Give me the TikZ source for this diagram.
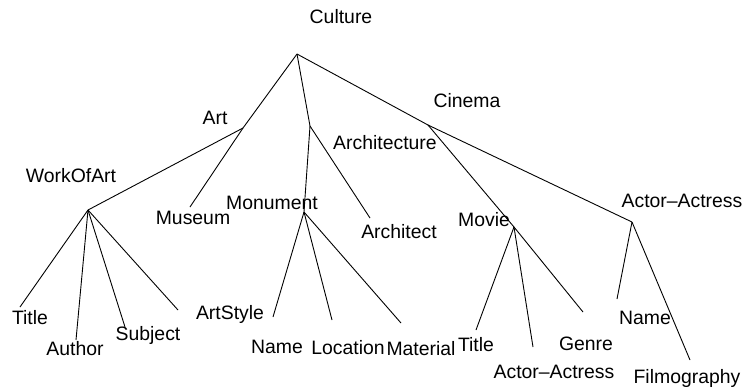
\documentclass[tikz,border=0pt]{standalone}
\usepackage{fontspec}
\setmainfont{Liberation Sans}
\usetikzlibrary{positioning}
\newcommand{\tl}{\fontsize{9.7}{11}\selectfont}

\begin{document}
\begin{tikzpicture}[x=0.5pt, y=-0.5pt,
  edge/.style={line width=0.45pt, black},
  lbl/.style={font=\tl, inner sep=0pt, anchor=base}]
\useasboundingbox (0,0) rectangle (746,388);

% ================================================================== joints and leaf ends
\coordinate (cul) at (297,54);
\coordinate (art) at (243,128);
\coordinate (arch) at (310,126);
\coordinate (cin) at (428,125);
\coordinate (woa) at (88,210);
\coordinate (mus) at (190,207);
\coordinate (mon) at (304,212);
\coordinate (archt) at (370,218);
\coordinate (mov) at (514,227);
\coordinate (act) at (632,222);
% leaves of WorkOfArt
\coordinate (w1) at (20,307);
\coordinate (w2) at (76,340);
\coordinate (w3) at (125,327);
\coordinate (w4) at (178,310);
% leaves of Monument
\coordinate (m1) at (273,317);
\coordinate (m2) at (332,320);
\coordinate (m3) at (401,323);
% leaves of Movie
\coordinate (v1) at (476,330);
\coordinate (v2) at (533,347);
\coordinate (v3) at (583,312);
% leaves of Actor-Actress
\coordinate (a1) at (617,299);
\coordinate (a2) at (690,360);

% ================================================================== edges
\foreach \c in {art,arch,cin}{ \draw[edge] (cul) -- (\c); }
\foreach \c in {woa,mus}{ \draw[edge] (art) -- (\c); }
\foreach \c in {mon,archt}{ \draw[edge] (arch) -- (\c); }
\foreach \c in {mov,act}{ \draw[edge] (cin) -- (\c); }
\foreach \c in {w1,w2,w3,w4}{ \draw[edge] (woa) -- (\c); }
\foreach \c in {m1,m2,m3}{ \draw[edge] (mon) -- (\c); }
\foreach \c in {v1,v2,v3}{ \draw[edge] (mov) -- (\c); }
\foreach \c in {a1,a2}{ \draw[edge] (act) -- (\c); }

% ================================================================== labels
\node[lbl] (lcul) at (341,23) {Culture};
\node[lbl] (lart) at (215,124) {Art};
\node[lbl] (lcin) at (467,107) {Cinema};
\node[lbl] (larch) at (385,149) {Architecture};
\node[lbl] (lwoa) at (71,182) {WorkOfArt};
\node[lbl] (lmus) at (193,224) {Museum};
\node[lbl] (lmon) at (272,209) {Monument};
\node[lbl] (larcht) at (399,238) {Architect};
\node[lbl] (lmov) at (484,226) {Movie};
\node[lbl] (lact) at (682,207) {Actor--Actress};
\node[lbl] (lw1) at (30,324) {Title};
\node[lbl] (lw2) at (75,355) {Author};
\node[lbl] (lw3) at (148,340) {Subject};
\node[lbl] (lw4) at (230,319) {ArtStyle};
\node[lbl] (lm1) at (277,353) {Name};
\node[lbl] (lm2) at (348,354) {Location};
\node[lbl] (lm3) at (421,355) {Material};
\node[lbl] (lv1) at (476,351) {Title};
\node[lbl] (lv2) at (554,378) {Actor--Actress};
\node[lbl] (lv3) at (586,350) {Genre};
\node[lbl] (la1) at (645,324) {Name};
\node[lbl] (la2) at (687,383) {Filmography};
\end{tikzpicture}
\end{document}
